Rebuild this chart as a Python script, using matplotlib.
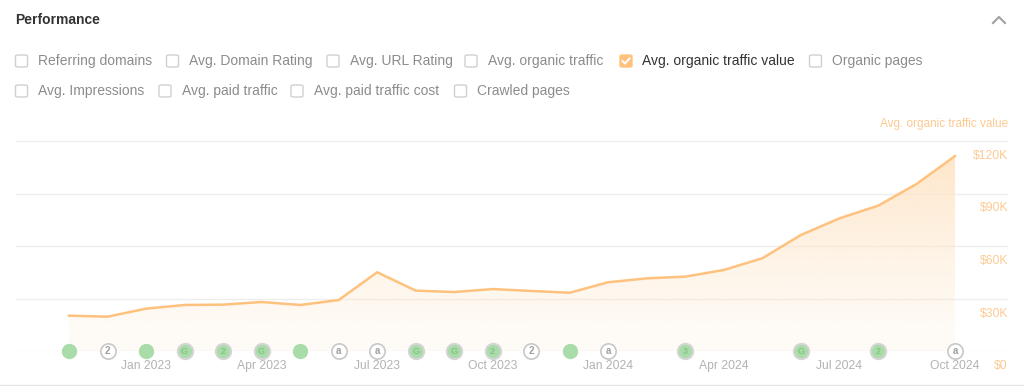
import matplotlib.pyplot as plt
import numpy as np
from matplotlib.patches import FancyBboxPatch, Polygon

plt.rcParams["font.family"] = ["Liberation Sans", "DejaVu Sans"]

# monthly data, Nov 2022 .. Oct 2024
months = ["Nov 2022", "Dec 2022", "Jan 2023", "Feb 2023", "Mar 2023", "Apr 2023",
          "May 2023", "Jun 2023", "Jul 2023", "Aug 2023", "Sep 2023", "Oct 2023",
          "Nov 2023", "Dec 2023", "Jan 2024", "Feb 2024", "Mar 2024", "Apr 2024",
          "May 2024", "Jun 2024", "Jul 2024", "Aug 2024", "Sep 2024", "Oct 2024"]
traffic_value = [20200, 19600, 24200, 26300, 26500, 28000, 26300, 29100, 45000, 34500,
                 33700, 35400, 34300, 33300, 39300, 41500, 42500, 46300, 53000, 66300,
                 75800, 83000, 95400, 111400]

y_ticks = [0, 30000, 60000, 90000, 120000]
y_labels = ["$0", "$30K", "$60K", "$90K", "$120K"]
x_tick_months = ["Jan 2023", "Apr 2023", "Jul 2023", "Oct 2023",
                 "Jan 2024", "Apr 2024", "Jul 2024", "Oct 2024"]

# annotation markers on the bottom line: (month index, kind, letter)
events = [(0, "green", ""), (1, "white", "2"), (2, "green", ""), (3, "ring", "G"),
          (4, "ring", "2"), (5, "ring", "G"), (6, "green", ""), (7, "white", "a"),
          (8, "white", "a"), (9, "ring", "G"), (10, "ring", "G"), (11, "ring", "2"),
          (12, "white", "2"), (13, "green", ""), (14, "white", "a"), (16, "ring", "3"),
          (19, "ring", "G"), (21, "ring", "2"), (23, "white", "a")]

options_row1 = [("Referring domains", 21.5, False), ("Avg. Domain Rating", 172.5, False),
                ("Avg. URL Rating", 333, False), ("Avg. organic traffic", 471, False),
                ("Avg. organic traffic value", 626, True), ("Organic pages", 815.5, False)]
options_row2 = [("Avg. Impressions", 21.5, False), ("Avg. paid traffic", 165, False),
                ("Avg. paid traffic cost", 297, False), ("Crawled pages", 460.5, False)]

W, H = 1024, 386
ORANGE = "#fec27e"
LABEL_ORANGE = "#fdca92"
GRAY_TEXT = "#8c8c8c"

fig = plt.figure(figsize=(W / 100, H / 100), dpi=100)
fig.patch.set_facecolor("white")


def fx(px):
    return px / W


def fy(py):
    return 1 - py / H


# header
fig.text(fx(15), fy(20), "Performance", fontsize=10, fontweight="bold",
         color="#333333", va="center", ha="left")
fig.lines.append(plt.Line2D([fx(993), fx(999), fx(1005)], [fy(23), fy(17), fy(23)],
                            transform=fig.transFigure, color="#a0a0a0", lw=1.5))


def draw_checkbox(cx, cy, label, checked):
    s = 12
    box = FancyBboxPatch((fx(cx - s / 2), fy(cy + s / 2)), fx(s), s / H,
                         boxstyle="round,pad=0,rounding_size=0.003",
                         transform=fig.transFigure,
                         facecolor=ORANGE if checked else "white",
                         edgecolor=ORANGE if checked else "#d0d0d0", linewidth=1.0)
    fig.patches.append(box)
    if checked:
        fig.lines.append(plt.Line2D([fx(cx - 3.5), fx(cx - 1), fx(cx + 3.5)],
                                    [fy(cy), fy(cy + 2.5), fy(cy - 2.5)],
                                    transform=fig.transFigure, color="white", lw=1.4))
    fig.text(fx(cx + 16.5), fy(cy), label, fontsize=10, va="center", ha="left",
             color="#333333" if checked else GRAY_TEXT)


for label, cx, checked in options_row1:
    draw_checkbox(cx, 61, label, checked)
for label, cx, checked in options_row2:
    draw_checkbox(cx, 91, label, checked)

# chart axes: left edge 16px, right 1008px, $0 at y=351, $120K at y=141
ax = fig.add_axes([fx(16), fy(351), fx(992), (351 - 141) / H])
x = np.arange(len(months))
step = 886 / 23
pad = (69 - 16) / step
ax.set_xlim(-pad, len(months) - 1 + pad)
ax.set_ylim(0, 120000)

for v in y_ticks:
    ax.axhline(v, color="#eeeeee", lw=1, zorder=0)

# gradient area fill
poly = Polygon(np.column_stack([np.r_[x, x[::-1]], np.r_[traffic_value, np.zeros(len(x))]]),
               closed=True, facecolor="none", edgecolor="none")
ax.add_patch(poly)
grad = np.linspace(1, 0, 256).reshape(-1, 1)
rgb = np.array([254, 228, 196]) / 255
img = np.ones((256, 1, 4))
img[..., :3] = rgb
img[..., 3] = 0.12 + 0.78 * grad ** 1.3
im = ax.imshow(img, extent=[x[0], x[-1], 0, max(traffic_value)], aspect="auto",
               origin="upper", zorder=1)
im.set_clip_path(poly)

ax.plot(x, traffic_value, color=ORANGE, lw=1.8, zorder=3, solid_joinstyle="round")

# y labels just under their gridlines on the right
for v, lab in zip(y_ticks, y_labels):
    ax.annotate(lab, xy=(1.0, v), xycoords=("axes fraction", "data"),
                xytext=(0, -15), textcoords="offset pixels", ha="right", va="center",
                fontsize=8.7, color=LABEL_ORANGE, annotation_clip=False)
ax.text(1.0, 1.08, "Avg. organic traffic value", transform=ax.transAxes, ha="right",
        va="center", fontsize=8.5, color=LABEL_ORANGE)

# x tick labels
for m in x_tick_months:
    i = months.index(m)
    ax.annotate(m, xy=(i, 0), xycoords="data", xytext=(0, -15), textcoords="offset pixels",
                ha="center", va="center", fontsize=8.7, color="#b3b3b3",
                annotation_clip=False)

# event markers
for i, kind, letter in events:
    if kind == "green":
        ax.plot(i, 0, "o", ms=10, mfc="#a9dca9", mec="#a9dca9", zorder=5, clip_on=False)
    elif kind == "ring":
        ax.plot(i, 0, "o", ms=11, mfc="#a9dca9", mec="#d5d5d5", mew=1.5, zorder=5,
                clip_on=False)
        ax.text(i, 0, letter, ha="center", va="center", fontsize=6.5, fontweight="bold",
                color="#86c386", zorder=6)
    else:
        ax.plot(i, 0, "o", ms=11, mfc="white", mec="#c8c8c8", mew=1.2, zorder=5,
                clip_on=False)
        ax.text(i, 0, letter, ha="center", va="center", fontsize=7, fontweight="bold",
                color="#a0a0a0", zorder=6)

for s in ax.spines.values():
    s.set_visible(False)
ax.set_xticks([])
ax.set_yticks([])
ax.patch.set_alpha(0)

# bottom separator
fig.lines.append(plt.Line2D([0, 1], [fy(384.5), fy(384.5)], transform=fig.transFigure,
                            color="#e6e6e6", lw=1))

fig.savefig("out.png", dpi=100)
